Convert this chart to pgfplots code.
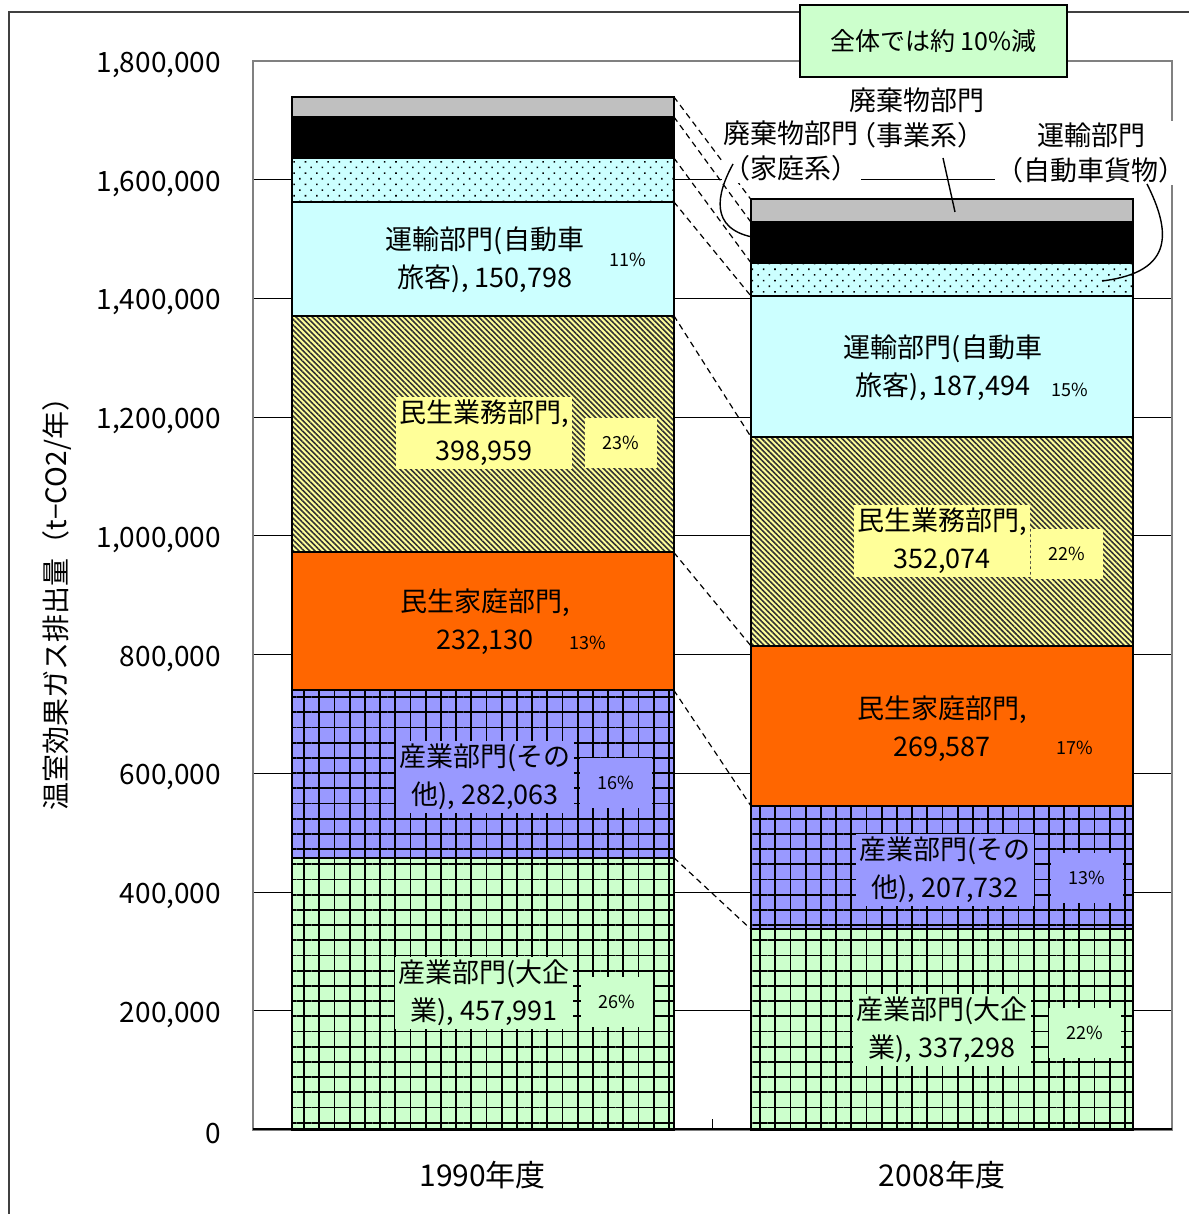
\documentclass[border=0pt]{standalone}
\usepackage{fontspec}
\setmainfont{Noto Sans CJK JP}
\usepackage{pgfplots}
\pgfplotsset{compat=1.18}
\usetikzlibrary{patterns.meta}
\definecolor{cgreen}{HTML}{CCFFCC}
\definecolor{cblue}{HTML}{9999FF}
\definecolor{corange}{HTML}{FF6600}
\definecolor{cyellow}{HTML}{FFFF99}
\definecolor{ccyan}{HTML}{CCFFFF}
\definecolor{cgray}{HTML}{C0C0C0}
\tikzset{
  lab/.style={font=\fontsize{13.5bp}{19bp}\selectfont, align=center, inner sep=1.5bp},
  ann/.style={font=\fontsize{13.5bp}{17.5bp}\selectfont, align=center, inner sep=1bp, fill=white},
  pct/.style={font=\fontsize{9bp}{11bp}\selectfont, minimum width=36bp, minimum height=25bp, inner sep=0pt},
  conn/.style={black, line width=0.6bp, dash pattern=on 3bp off 2.2bp, mark=none},
}
\pgfplotsset{
  common/.style={
    at={(0,0)}, anchor=south west,
    scale only axis, width=459.35bp, height=534.25bp,
    xmin=-0.5, xmax=1.5, ymin=0, ymax=1800000,
  },
  seg/.style={draw=black, line width=1bp},
}
\begin{document}
\begin{tikzpicture}
\begin{axis}[
  common,
  ybar stacked, bar width=0.832,
  xtick={0,1}, xticklabels={1990年度,2008年度},
  ytick={0,200000,400000,600000,800000,1000000,1200000,1400000,1600000,1800000},
  xtick style={draw=none}, ytick style={draw=none},
  ymajorgrids, grid style={black, line width=0.5bp},
  axis line style={draw=gray, line width=1bp},
  yticklabel style={font=\fontsize{14bp}{16bp}\selectfont, xshift=-12.5bp, yshift=-2bp},
  xticklabel style={font=\fontsize{15bp}{17bp}\selectfont, yshift=-12.5bp},
  scaled y ticks=false,
  /pgf/number format/fixed,
  /pgf/number format/1000 sep={,},
  /pgf/number format/assume math mode=true,
  clip=false,
]
% 産業部門（大企業）
\addplot[seg, fill=cgreen, postaction={pattern={Hatch[distance=7.6bp, line width=0.9bp]}, pattern color=black}]
  coordinates {(0,457991) (1,337298)};
% 産業部門（その他）
\addplot[seg, fill=cblue, postaction={pattern={Hatch[distance=7.6bp, line width=0.9bp]}, pattern color=black}]
  coordinates {(0,282063) (1,207732)};
% 民生家庭部門
\addplot[seg, fill=corange] coordinates {(0,232130) (1,269587)};
% 民生業務部門
\addplot[seg, fill=cyellow, postaction={pattern={Lines[angle=-45, distance=1.9bp, line width=0.8bp]}, pattern color=black!80}]
  coordinates {(0,398959) (1,352074)};
% 運輸部門（自動車旅客）
\addplot[seg, fill=ccyan] coordinates {(0,191657) (1,237309)};
% 運輸部門（自動車貨物）
\addplot[seg, fill=ccyan, postaction={pattern={Dots[distance=4bp, angle=45, radius=0.55bp]}, pattern color=black}]
  coordinates {(0,74100) (1,56000)};
% 廃棄物部門（事業系）
\addplot[seg, fill=black] coordinates {(0,69100) (1,68400)};
% 廃棄物部門（家庭系）
\addplot[seg, fill=cgray] coordinates {(0,33700) (1,38300)};
\end{axis}
\begin{axis}[common, hide axis, clip=false]
\addplot[black, line width=1bp, mark=none] coordinates {(-0.5,0) (1.5,0)};
\addplot[black, line width=0.6bp, mark=none] coordinates {(0.5,0) (0.5,17000)};
\addplot[conn] coordinates {(0.416,457991) (0.584,337298)};
\addplot[conn] coordinates {(0.416,740054) (0.584,545030)};
\addplot[conn] coordinates {(0.416,972184) (0.584,814617)};
\addplot[conn] coordinates {(0.416,1371143) (0.584,1166691)};
\addplot[conn] coordinates {(0.416,1562800) (0.584,1404000)};
\addplot[conn] coordinates {(0.416,1636900) (0.584,1460000)};
\addplot[conn] coordinates {(0.416,1706000) (0.584,1528400)};
\addplot[conn] coordinates {(0.416,1739700) (0.584,1566700)};
\end{axis}
\begin{scope}[x=0.5bp, y=-0.5bp, shift={(-253,-1129.5)}]
% outer frame
\draw[line width=1bp, black!75] (9,1214) -- (9,12) -- (1189,12);
% title box
\node[draw=black, fill=cgreen, line width=1bp, minimum width=133.5bp, minimum height=36bp,
  font=\fontsize{12.5bp}{14bp}\selectfont] at (933.5,41) {全体では約 10\%減};
% y label
\node[rotate=90, font=\fontsize{14bp}{16bp}\selectfont] at (57,597) {温室効果ガス排出量（t−CO2/年）};
% 1990 labels
\node[lab, fill=cgreen] at (484,993) {産業部門(大企\\業), 457,991};
\node[pct, fill=cgreen] at (617,1002) {26\%};
\node[lab, fill=cblue] at (485,777) {産業部門(その\\他), 282,063};
\node[pct, fill=cblue] at (616,783) {16\%};
\node[lab] at (485,622) {民生家庭部門,\\232,130};
\node[pct] at (588,643) {13\%};
\node[lab, fill=cyellow] at (484,433) {民生業務部門,\\398,959};
\node[pct, fill=cyellow] at (621,443) {23\%};
\node[lab] at (485,260) {運輸部門(自動車\\旅客), 150,798};
\node[pct] at (628,260) {11\%};
% 2008 labels
\node[lab, fill=cgreen] at (942,1030) {産業部門(大企\\業), 337,298};
\node[pct, fill=cgreen] at (1085,1033) {22\%};
\node[lab, fill=cblue] at (945,870) {産業部門(その\\他), 207,732};
\node[pct, fill=cblue] at (1087,878) {13\%};
\node[lab] at (942,729) {民生家庭部門,\\269,587};
\node[pct] at (1075,748) {17\%};
\node[lab, fill=cyellow] at (942,541) {民生業務部門,\\352,074};
\node[pct, fill=cyellow] at (1067,554) {22\%};
\node[lab] at (943,368) {運輸部門(自動車\\旅客), 187,494};
\node[pct] at (1070,390) {15\%};
% annotations
\node[ann] at (917,118) {廃棄物部門\\（事業系）};
\node[ann] at (791,151) {廃棄物部門\\（家庭系）};
\node[ann] at (1091,153) {運輸部門\\（自動車貨物）};
\draw[line width=0.7bp] (943,158) -- (955,212);
\draw[line width=0.7bp] (733,164) .. controls (716,195) and (710,228) .. (752,237);
\draw[line width=0.7bp] (1147,184) .. controls (1170,230) and (1176,272) .. (1102,281);
\pgfresetboundingbox
\path[use as bounding box] (0,0) rectangle (1189,1214);
\end{scope}
\end{tikzpicture}
\end{document}
